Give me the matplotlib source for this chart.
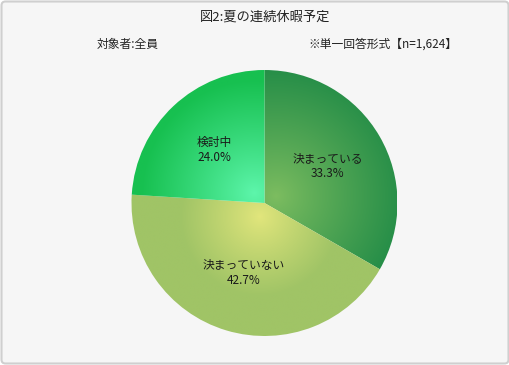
import numpy as np
import matplotlib
matplotlib.use('Agg')
import matplotlib.pyplot as plt
from matplotlib.colors import to_rgb
from matplotlib.patches import FancyBboxPatch

plt.rcParams['font.family'] = ['Noto Sans CJK JP', 'DejaVu Sans']

# data
labels = ['決まっている', '決まっていない', '検討中']
values = [33.3, 42.7, 24.0]
title = '図2:夏の連続休暇予定'
target = '対象者:全員'
note = '※単一回答形式【n=1,624】'

# gradient colours per slice (light centre -> dark edge) and gradient reach
inner = ['#7dbd60', '#e2e67c', '#5ef6ac']
outer = ['#228c47', '#a0c466', '#17c050']
reach = [1.0, 0.6, 0.85]

W, H = 510, 365
cx, cy, R = 264.5, H - 203, 133

fig = plt.figure(figsize=(W / 100, H / 100), dpi=100)
fig.patch.set_facecolor('white')
ax = fig.add_axes([0, 0, 1, 1])

# background panel with rounded border
ax.add_patch(FancyBboxPatch((1.5, 1.5), W - 3, H - 3, boxstyle='round,pad=0,rounding_size=4',
                            facecolor='#f6f6f6', edgecolor='#cfcfcf', lw=1.5, zorder=0))

txt = [f'{l}\n{v:.1f}%' for l, v in zip(labels, values)]
wedges, texts = ax.pie(values, labels=txt, startangle=90, counterclock=False,
                       center=(cx, cy), radius=R, labeldistance=0.55,
                       textprops=dict(ha='center', va='center', fontsize=8.5, color='#1a1a1a',
                                      linespacing=1.2),
                       wedgeprops=dict(linewidth=0))

# radial gradient fill clipped to each wedge
xs = np.linspace(cx - R, cx + R, 400)
ys = np.linspace(cy - R, cy + R, 400)
X, Y = np.meshgrid(xs, ys)
for w, c0, c1, rg in zip(wedges, inner, outer, reach):
    mid = np.deg2rad((w.theta1 + w.theta2) / 2)
    fx, fy = cx + 14 * np.cos(mid), cy + 14 * np.sin(mid)
    d = np.hypot(X - fx, Y - fy) / (R * rg)
    t = np.clip(d, 0, 1) ** 0.9
    a, b = np.array(to_rgb(c0)), np.array(to_rgb(c1))
    img = a[None, None, :] * (1 - t[..., None]) + b[None, None, :] * t[..., None]
    w.set_facecolor('none')
    im = ax.imshow(img, extent=(cx - R, cx + R, cy - R, cy + R), origin='lower',
                   interpolation='bilinear', zorder=1)
    im.set_clip_path(w)

for t in texts:
    t.set_zorder(3)

ax.text(265, H - 17, title, ha='center', va='center', fontsize=9.5, color='#222222')
ax.text(97, H - 44, target, ha='left', va='center', fontsize=8.5, color='#222222')
ax.text(457, H - 44, note, ha='right', va='center', fontsize=8.5, color='#222222')

ax.set_xlim(0, W)
ax.set_ylim(0, H)
ax.set_aspect('auto')
ax.axis('off')

fig.savefig('out.png', dpi=100, facecolor='white')
